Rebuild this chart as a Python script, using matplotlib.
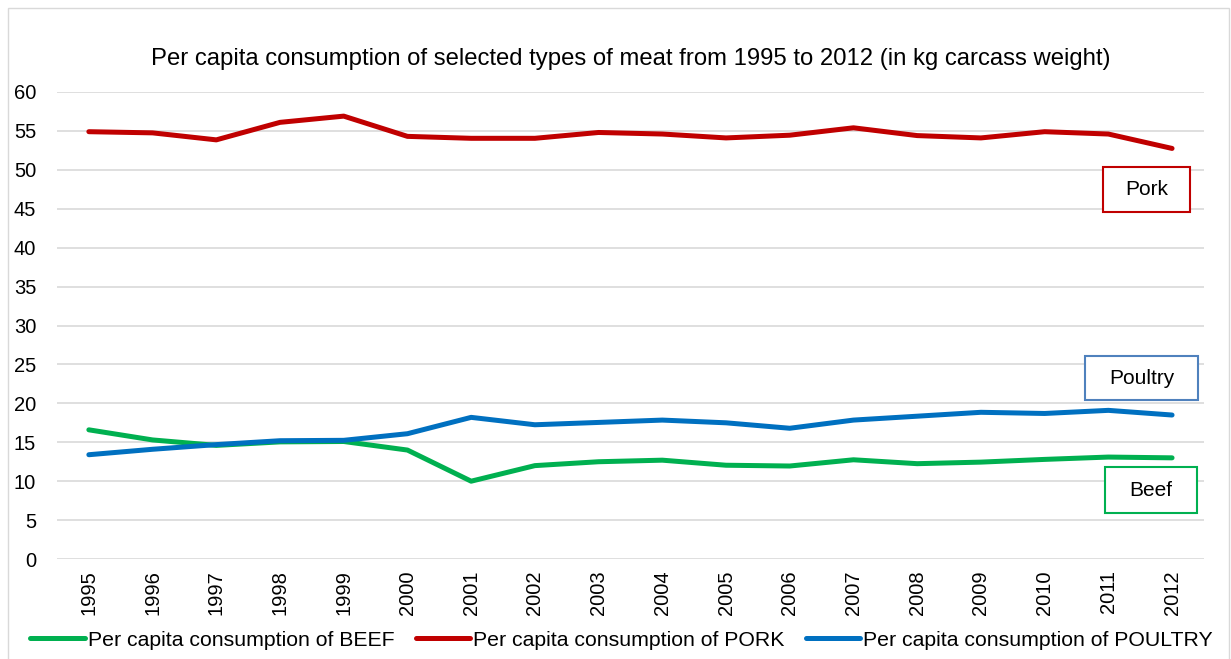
import matplotlib.pyplot as plt
from matplotlib.patches import Rectangle

plt.rcParams['font.family'] = ['Liberation Sans', 'DejaVu Sans']

years = [str(y) for y in range(1995, 2013)]
beef = [16.6, 15.3, 14.6, 15.05, 15.1, 14.0, 10.0, 12.0, 12.5, 12.7,
        12.05, 11.95, 12.75, 12.25, 12.45, 12.8, 13.1, 13.0]
pork = [54.9, 54.75, 53.85, 56.1, 56.9, 54.3, 54.05, 54.05, 54.8, 54.6,
        54.1, 54.45, 55.4, 54.4, 54.1, 54.9, 54.6, 52.75]
poultry = [13.4, 14.1, 14.7, 15.2, 15.25, 16.1, 18.2, 17.25, 17.55, 17.85,
           17.5, 16.8, 17.85, 18.35, 18.85, 18.7, 19.1, 18.5]

fig = plt.figure(figsize=(12.31, 6.59), dpi=100)
ax = fig.add_axes([0.0463, 0.1517, 0.9317, 0.7087])

x = range(len(years))
ax.plot(x, beef, c='#00B050', lw=3.6, label='Per capita consumption of BEEF', solid_capstyle='round')
ax.plot(x, pork, c='#C00000', lw=3.6, label='Per capita consumption of PORK', solid_capstyle='round')
ax.plot(x, poultry, c='#0070C0', lw=3.6, label='Per capita consumption of POULTRY', solid_capstyle='round')

ax.set_xlim(-0.5, len(years) - 0.5)
ax.set_ylim(0, 60)
ax.set_yticks(range(0, 61, 5))
ax.set_xticks(list(x))
ax.set_xticklabels(years, rotation=90)
ax.tick_params(axis='both', length=0, labelsize=14.5)
ax.tick_params(axis='y', pad=15)
ax.tick_params(axis='x', pad=8)
ax.grid(axis='y', color='#D9D9D9', lw=1.2)
ax.set_axisbelow(True)
for s in ['top', 'left', 'right', 'bottom']:
    ax.spines[s].set_visible(False)

ax.set_title('Per capita consumption of selected types of meat from 1995 to 2012 (in kg carcass weight)',
             fontsize=17.2, pad=19.5)

# label boxes next to the lines
boxes = [('Pork', 15.92, 44.6, 1.36, 5.8, '#C00000'),
         ('Poultry', 15.64, 20.4, 1.77, 5.7, '#4F81BD'),
         ('Beef', 15.94, 5.9, 1.45, 5.9, '#00B050')]
for name, bx, by, bw, bh, col in boxes:
    ax.add_patch(Rectangle((bx, by), bw, bh, fill=True, fc='white', ec=col, lw=1.5, zorder=5, clip_on=False))
    ax.text(bx + bw / 2, by + bh / 2, name, ha='center', va='center', fontsize=15, zorder=6)

fig.legend(loc='lower center', bbox_to_anchor=(0.505, -0.015), ncol=3, frameon=False,
           fontsize=15.3, handlelength=2.55, columnspacing=1.0, handletextpad=0.15)

fig.patches.append(Rectangle((8 / 1231, -0.01), 1221 / 1231, 1 - 8 / 659 + 0.01, transform=fig.transFigure,
                             fill=False, ec='#D9D9D9', lw=1))

fig.savefig('out.png', dpi=100)
